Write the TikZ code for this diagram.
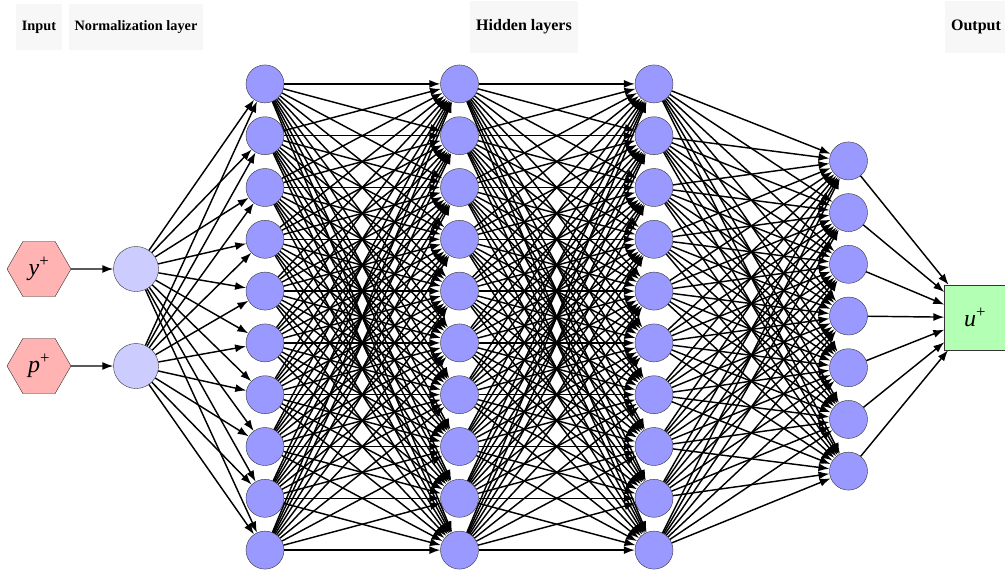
\documentclass[tikz,border=0pt]{standalone}
\usepackage{fontspec}
\setmainfont{Liberation Serif}
\usepackage{tikz}
\usetikzlibrary{arrows.meta,shapes.geometric}
\definecolor{hidColor}{HTML}{9999FF}
\definecolor{normColor}{HTML}{CCCCFF}
\definecolor{inColor}{HTML}{FFB3B3}
\definecolor{outColor}{HTML}{B3FFB3}
\definecolor{capColor}{HTML}{F7F7F7}

\begin{document}
\begin{tikzpicture}[x=1pt,y=-1pt,
  neuron/.style={circle,draw=black!80,fill=hidColor,minimum size=38pt,inner sep=0pt},
  normneuron/.style={circle,draw=black!80,fill=normColor,minimum size=45pt,inner sep=0pt},
  innode/.style={regular polygon,regular polygon sides=6,draw=black!80,fill=inColor,minimum size=64pt,inner sep=0pt,font=\fontsize{24}{24}\selectfont},
  outnode/.style={rectangle,draw=black!80,fill=outColor,minimum width=61pt,minimum height=65pt,inner sep=0pt,font=\fontsize{24}{24}\selectfont},
  caption/.style={fill=capColor,inner xsep=6pt,inner ysep=0pt,font=\bfseries},
  link/.style={line width=1.45pt,-{Latex[length=11pt,width=8pt]}}]
\useasboundingbox (0,0) rectangle (1005,574);
% captions
\node[caption,minimum height=46pt,font=\fontsize{14.3}{16}\selectfont\bfseries] (capIn) at (39,27) {Input};
\node[caption,minimum height=46pt,font=\fontsize{14.3}{16}\selectfont\bfseries] (capNorm) at (136,27) {Normalization layer};
\node[caption,minimum height=52pt,font=\fontsize{16}{18}\selectfont\bfseries] (capHid) at (524,27) {Hidden layers};
\node[caption,minimum height=52pt,minimum width=60pt,font=\fontsize{16}{18}\selectfont\bfseries] (capOut) at (976,27) {Output};
% input and normalization
\node[innode] (in1) at (39,269) {\textit{y}\textsuperscript{+}};
\node[innode] (in2) at (39,366) {\textit{p}\textsuperscript{+}};
\node[normneuron] (norm1) at (136,269) {};
\node[normneuron] (norm2) at (136,366) {};
% hidden layers
\foreach \l/\x in {1/265,2/459.5,3/654}
  \foreach \i in {1,...,10}
    \node[neuron] (h\l-\i) at (\x,{317+(\i-5.5)*51.8}) {};
\foreach \i in {1,...,7}
  \node[neuron] (h4-\i) at (848.5,{316+(\i-4)*51.7}) {};
% output
\node[outnode] (out) at (975,317.5) {\textit{u}\textsuperscript{+}};
% links
\draw[link] (in1) -- (norm1);
\draw[link] (in2) -- (norm2);
\foreach \n in {1,2}
  \foreach \j in {1,...,10}
    \draw[link] (norm\n) -- (h1-\j);
\foreach \i in {1,...,10}
  \foreach \j in {1,...,10} {
    \draw[link] (h1-\i) -- (h2-\j);
    \draw[link] (h2-\i) -- (h3-\j);
  }
\foreach \i in {1,...,10}
  \foreach \j in {1,...,7}
    \draw[link] (h3-\i) -- (h4-\j);
\foreach \j in {1,...,7}
  \draw[link] (h4-\j) -- (out);
\end{tikzpicture}
\end{document}
